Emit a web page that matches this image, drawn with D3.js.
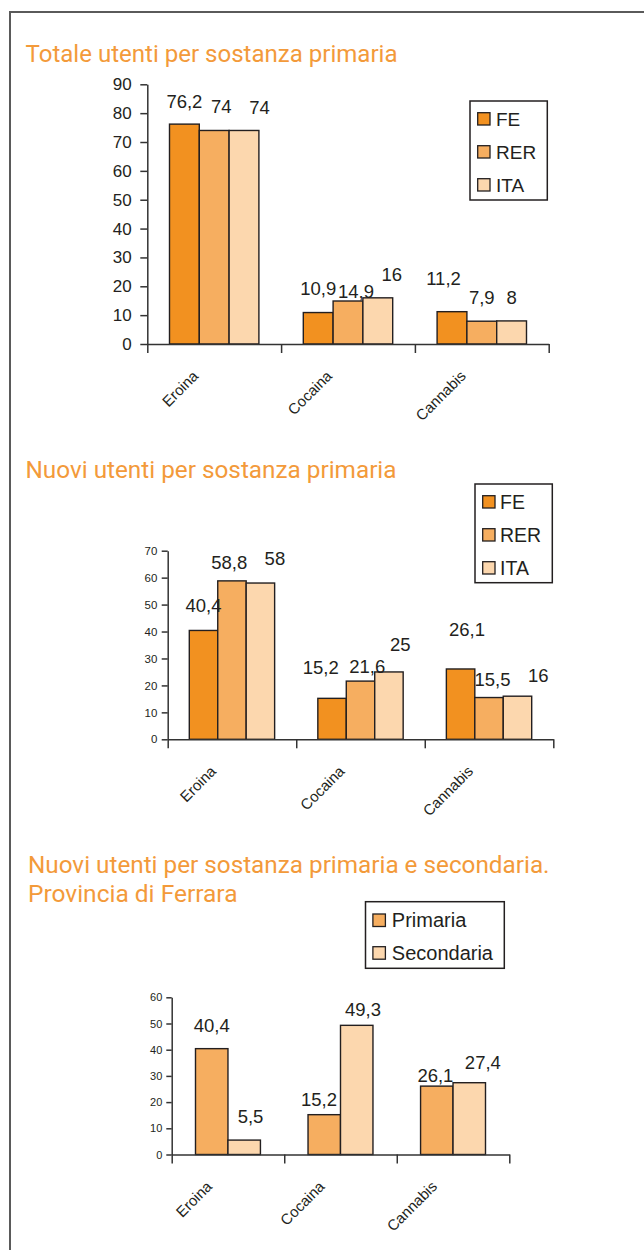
<!DOCTYPE html>
<html><head><meta charset="utf-8">
<script src="https://cdn.jsdelivr.net/npm/d3@7"></script>
<style>body{margin:0;background:#fff}svg{display:block}</style>
</head><body>
<script>
// ---------- DATA ----------
const categories = ["Eroina", "Cocaina", "Cannabis"];

// Chart 1: Totale utenti per sostanza primaria
const totSeries = ["FE", "RER", "ITA"];
const totFE  = [76.2, 10.9, 11.2];
const totRER = [74, 14.9, 7.9];
const totITA = [74, 16, 8];
const totTicks = [0, 10, 20, 30, 40, 50, 60, 70, 80, 90];

// Chart 2: Nuovi utenti per sostanza primaria
const newSeries = ["FE", "RER", "ITA"];
const newFE  = [40.4, 15.2, 26.1];
const newRER = [58.8, 21.6, 15.5];
const newITA = [58, 25, 16];
const newTicks = [0, 10, 20, 30, 40, 50, 60, 70];

// Chart 3: Nuovi utenti per sostanza primaria e secondaria. Provincia di Ferrara
const psSeries = ["Primaria", "Secondaria"];
const psPrimaria   = [40.4, 15.2, 26.1];
const psSecondaria = [5.5, 49.3, 27.4];
const psTicks = [0, 10, 20, 30, 40, 50, 60];

const titles = [
  ["Totale utenti per sostanza primaria"],
  ["Nuovi utenti per sostanza primaria"],
  ["Nuovi utenti per sostanza primaria e secondaria.", "Provincia di Ferrara"]
];

// ---------- STYLE / LAYOUT ----------
const C_FE = "#F29120", C_RER = "#F6AE60", C_ITA = "#FCD7AE";
const TITLE_COLOR = "#F39A3A";
const INK = "#231F20";
const fmt = v => String(v).replace(".", ",");

// label nudges [dx, gap above bar top] per series per category (layout only)
const nudge1 = [[[0,16.5],[0,17.5],[-8.5,27]], [[7,17],[8,3],[0,17.7]], [[15.5,16.5],[14,17],[0,17]]];
const nudge2 = [[[0,18],[-11.3,24.7],[6.4,33.3]], [[-2.7,12.3],[6.7,7.7],[3.5,11.3]], [[14.5,17.7],[11.3,21],[20.8,14]]];
const nudge3 = [[[0,17],[-5.3,8.6],[-1.4,4]], [[6.3,17],[6.3,9],[13.6,13.5]]];

const svg = d3.select("body").append("svg").attr("width", 644).attr("height", 1250);
svg.append("rect").attr("width", 644).attr("height", 1250).attr("fill", "#fff");

// frame
svg.append("path").attr("d", "M10,1250 V12 H644").attr("fill", "none")
  .attr("stroke", "#5a5a5a").attr("stroke-width", 2);

// titles
function drawTitle(lines, x, y0, lh, widths) {
  lines.forEach((t, i) => {
    svg.append("text").attr("x", x).attr("y", y0 + i * lh)
      .attr("font-family", "'Liberation Sans Narrow', Roboto, 'Liberation Sans', sans-serif")
      .attr("font-weight", 400).attr("font-size", 23.5)
      .attr("fill", TITLE_COLOR)
      .attr("textLength", widths[i]).attr("lengthAdjust", "spacingAndGlyphs")
      .text(t);
  });
}
drawTitle(titles[0], 25.5, 62.3, 0, [372]);
drawTitle(titles[1], 25.5, 478, 0, [371]);
drawTitle(titles[2], 28, 873.3, 29, [521.5, 209.5]);

function chart(cfg) {
  const g = svg.append("g");
  const y = d3.scaleLinear().domain([0, d3.max(cfg.ticks)]).range([cfg.y0, cfg.yTop]);
  const xb = d3.scaleBand().domain(categories).range([cfg.x0, cfg.x1]).padding(0);
  const xs = d3.scaleBand().domain(cfg.series).range([cfg.pad, xb.bandwidth() - cfg.pad]).padding(0);
  const xEdge = d3.scaleLinear().domain([0, categories.length]).range([cfg.x0, cfg.x1]);

  // bars
  cfg.series.forEach((s, si) => {
    g.selectAll(null).data(cfg.values[si]).enter().append("rect")
      .attr("x", (d, i) => xb(categories[i]) + xs(s))
      .attr("y", d => y(d))
      .attr("width", xs.bandwidth())
      .attr("height", d => y(0) - y(d))
      .attr("fill", cfg.colors[si]).attr("stroke", INK).attr("stroke-width", 1.4);
  });

  // y axis
  const ya = g.append("g").attr("transform", `translate(${cfg.x0},0)`)
    .call(d3.axisLeft(y).tickValues(cfg.ticks).tickSizeInner(cfg.tickLen).tickSizeOuter(0).tickPadding(cfg.tickPad));
  ya.select(".domain").attr("stroke", "#333").attr("stroke-width", 1.5);
  ya.selectAll(".tick line").attr("stroke", "#333").attr("stroke-width", 1.5);
  ya.selectAll(".tick text").attr("font-family", "'Liberation Sans', Arial, sans-serif")
    .attr("font-size", cfg.tickFont).attr("fill", INK);

  // x axis (category boundaries)
  const xa = g.append("g").attr("transform", `translate(0,${cfg.y0})`)
    .call(d3.axisBottom(xEdge).tickValues(d3.range(categories.length + 1)).tickSizeInner(9).tickSizeOuter(0).tickFormat(""));
  xa.select(".domain").attr("stroke", "#333").attr("stroke-width", 1.5);
  xa.selectAll(".tick line").attr("stroke", "#333").attr("stroke-width", 1.5);

  // category labels
  g.selectAll(null).data(categories).enter().append("text")
    .attr("transform", d => `translate(${xb(d) + xb.bandwidth() / 2 - 15},${cfg.y0 + 33}) rotate(-45)`)
    .attr("text-anchor", "end")
    .attr("font-family", "'Liberation Sans', Arial, sans-serif").attr("font-size", 15)
    .attr("fill", INK).text(d => d);

  // value labels
  cfg.series.forEach((s, si) => {
    g.selectAll(null).data(cfg.values[si]).enter().append("text")
      .attr("x", (d, i) => xb(categories[i]) + xs(s) + xs.bandwidth() / 2 + cfg.nudge[si][i][0])
      .attr("y", (d, i) => y(d) - cfg.nudge[si][i][1])
      .attr("text-anchor", "middle")
      .attr("font-family", "'Liberation Sans', Arial, sans-serif").attr("font-size", 18.5)
      .attr("fill", INK).text(d => fmt(d));
  });

  // legend
  const L = cfg.legend;
  g.append("rect").attr("x", L.x).attr("y", L.y).attr("width", L.w).attr("height", L.h)
    .attr("fill", "#fff").attr("stroke", INK).attr("stroke-width", 1.5);
  cfg.series.forEach((s, si) => {
    const top = L.sy + si * L.step;
    g.append("rect").attr("x", L.sx).attr("y", top).attr("width", L.ss).attr("height", L.ss)
      .attr("fill", cfg.colors[si]).attr("stroke", INK).attr("stroke-width", 1.3);
    g.append("text").attr("x", L.tx).attr("y", top + L.ss + 0.5)
      .attr("font-family", "'Liberation Sans', Arial, sans-serif").attr("font-size", L.font)
      .attr("fill", INK).text(s);
  });
}

chart({
  series: totSeries, values: [totFE, totRER, totITA], colors: [C_FE, C_RER, C_ITA], ticks: totTicks,
  x0: 147.3, x1: 548.7, y0: 344, yTop: 84.3, pad: 22.2,
  tickLen: 7, tickPad: 8.6, tickFont: 17, nudge: nudge1,
  legend: {x: 470, y: 101, w: 77.3, h: 99, sx: 477.7, sy: 112.7, ss: 12.3, step: 33, tx: 496, font: 19}
});
chart({
  series: newSeries, values: [newFE, newRER, newITA], colors: [C_FE, C_RER, C_ITA], ticks: newTicks,
  x0: 167.7, x1: 553.3, y0: 739.3, yTop: 550.7, pad: 21.6,
  tickLen: 6, tickPad: 4.4, tickFont: 11.5, nudge: nudge2,
  legend: {x: 475, y: 484, w: 77.3, h: 98.7, sx: 482.7, sy: 495.7, ss: 12.3, step: 33, tx: 500, font: 19.5}
});
chart({
  series: psSeries, values: [psPrimaria, psSecondaria], colors: [C_RER, C_ITA], ticks: psTicks,
  x0: 171.7, x1: 509.3, y0: 1154.5, yTop: 997.3, pad: 23.8,
  tickLen: 5.4, tickPad: 4, tickFont: 11, nudge: nudge3,
  legend: {x: 365.5, y: 901.7, w: 138.8, h: 66.6, sx: 372.9, sy: 914, ss: 12.5, step: 32.7, tx: 391.8, font: 20}
});
</script>
</body></html>
